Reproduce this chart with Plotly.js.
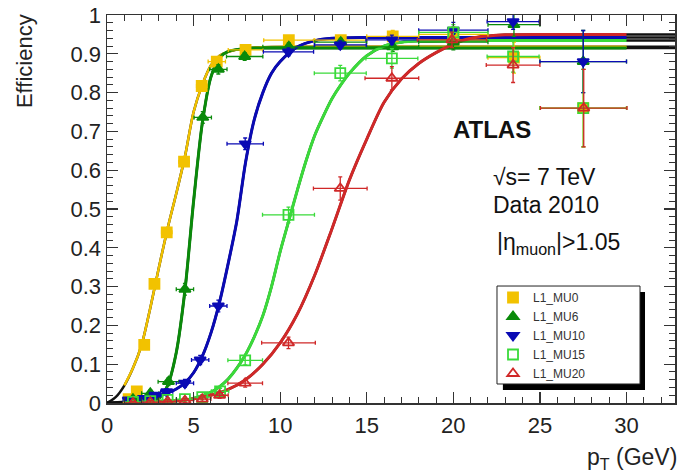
<!DOCTYPE html>
<html>
<head>
<meta charset="utf-8">
<script src="https://cdn.plot.ly/plotly-3.0.1.min.js"></script>
<style>html,body{margin:0;padding:0;background:#fff;}#chart{width:681px;height:474px;}</style>
</head>
<body>
<div id="chart"></div>
<script>
// ---- data points ----
const names = ["L1_MU0", "L1_MU6", "L1_MU10", "L1_MU15", "L1_MU20"];

const x0 = [1.25, 1.72, 2.15, 2.74, 3.45, 4.45, 5.47, 6.34, 8.0, 10.5, 13.5, 16.5, 20.0, 23.5, 27.5];
const y0 = [0.01, 0.03, 0.15, 0.307, 0.44, 0.622, 0.817, 0.88, 0.91, 0.935, 0.935, 0.945, 0.95, 0.89, 0.76];
const ex0 = [0.25, 0.25, 0.25, 0.25, 0.3, 0.3, 0.3, 0.5, 1, 1.45, 1.5, 1.5, 2, 1.5, 2.5];
const ey0 = [0.005, 0.008, 0.01, 0.01, 0.01, 0.01, 0.01, 0.01, 0.01, 0.01, 0.01, 0.015, 0.02, 0.04, 0.1];

const x6 = [1.5, 2.5, 3.55, 4.5, 5.53, 6.43, 7.95, 10.5, 13.5, 16.5, 20.0, 23.5, 27.5];
const y6 = [0.01, 0.025, 0.055, 0.293, 0.736, 0.86, 0.893, 0.918, 0.93, 0.918, 0.93, 0.975, 0.88];
const ex6 = [0.5, 0.5, 0.6, 0.5, 0.5, 0.5, 1.05, 1.5, 1.5, 1.5, 2, 1.5, 2.5];
const ey6 = [0.005, 0.008, 0.01, 0.015, 0.015, 0.012, 0.01, 0.01, 0.01, 0.012, 0.02, 0.03, 0.08];

const x10 = [1.23, 2.1, 2.77, 3.45, 4.5, 5.38, 6.43, 7.98, 10.48, 13.47, 16.45, 20.0, 23.45, 27.5];
const y10 = [0.008, 0.012, 0.02, 0.029, 0.051, 0.111, 0.25, 0.668, 0.905, 0.923, 0.936, 0.961, 0.983, 0.88];
const ex10 = [0.3, 0.3, 0.3, 0.35, 0.5, 0.5, 0.5, 1.05, 1.45, 1.5, 1.5, 2, 1.5, 2.5];
const ey10 = [0.005, 0.005, 0.006, 0.008, 0.01, 0.012, 0.015, 0.015, 0.01, 0.01, 0.012, 0.02, 0.02, 0.08];

const x15 = [1.5, 2.5, 3.5, 4.5, 5.5, 6.53, 7.98, 10.48, 13.47, 16.45, 20.0, 23.45, 27.5];
const y15 = [0.003, 0.005, 0.008, 0.01, 0.015, 0.03, 0.11, 0.485, 0.85, 0.888, 0.955, 0.893, 0.76];
const ex15 = [0.5, 0.5, 0.5, 0.5, 0.5, 0.5, 1, 1.5, 1.5, 1.5, 2, 1.5, 2.5];
const ey15 = [0.004, 0.004, 0.005, 0.005, 0.006, 0.008, 0.012, 0.02, 0.02, 0.025, 0.02, 0.04, 0.1];

const x20 = [1.5, 2.5, 3.5, 4.5, 5.5, 6.5, 7.98, 10.48, 13.47, 16.45, 19.92, 23.45, 27.53];
const y20 = [0.0, 0.002, 0.004, 0.006, 0.01, 0.02, 0.051, 0.155, 0.553, 0.837, 0.936, 0.871, 0.76];
const ex20 = [0.5, 0.5, 0.5, 0.5, 0.5, 0.5, 1, 1.55, 1.55, 1.55, 2, 1.55, 2.5];
const ey20 = [0.004, 0.004, 0.005, 0.005, 0.006, 0.008, 0.01, 0.015, 0.03, 0.03, 0.02, 0.045, 0.1];

// ---- fit curves ----
const cx0 = [0, 0.5, 1.0, 1.5, 2.0, 2.5, 3.0, 3.5, 4.0, 4.5, 5.0, 5.5, 6.0, 6.5, 7.0, 8.0, 9.0, 12, 20, 30, 33];
const cy0 = [0, 0.015, 0.045, 0.09, 0.15, 0.245, 0.35, 0.45, 0.54, 0.635, 0.75, 0.82, 0.87, 0.895, 0.905, 0.914, 0.917, 0.918, 0.918, 0.918, 0.918];

const cx6 = [0, 1, 2, 2.5, 3.0, 3.5, 4.0, 4.5, 5.0, 5.5, 6.0, 6.5, 7.0, 8.0, 10, 20, 30, 33];
const cy6 = [0, 0.0, 0.003, 0.006, 0.012, 0.045, 0.13, 0.29, 0.52, 0.72, 0.84, 0.89, 0.906, 0.914, 0.915, 0.915, 0.915, 0.915];

const cx10 = [0, 1, 2, 3, 3.5, 4, 4.5, 5, 5.5, 6, 6.5, 7, 7.5, 8, 8.5, 9, 9.5, 10, 11, 12, 13, 15, 20, 30, 33];
const cy10 = [0, 0.003, 0.008, 0.018, 0.026, 0.036, 0.052, 0.078, 0.12, 0.18, 0.26, 0.36, 0.47, 0.62, 0.73, 0.8, 0.85, 0.88, 0.918, 0.934, 0.94, 0.942, 0.942, 0.942, 0.942];

const cx15 = [0, 2, 3, 4, 5, 6, 6.5, 7, 7.5, 8, 8.5, 9, 9.5, 10, 10.5, 11, 11.5, 12, 12.5, 13, 13.5, 14, 15, 16, 17, 18, 20, 30, 33];
const cy15 = [0, 0.001, 0.002, 0.005, 0.012, 0.028, 0.042, 0.062, 0.09, 0.125, 0.17, 0.225, 0.3, 0.39, 0.47, 0.55, 0.625, 0.69, 0.74, 0.785, 0.82, 0.85, 0.895, 0.92, 0.93, 0.933, 0.934, 0.934, 0.934];

const cx20 = [0, 2, 3, 4, 5, 6, 7, 8, 9, 10, 11, 12, 13, 14, 15, 16, 17, 18, 19, 20, 21, 22, 23, 25, 30, 33];
const cy20 = [0, 0.001, 0.003, 0.006, 0.011, 0.02, 0.035, 0.06, 0.1, 0.155, 0.23, 0.33, 0.45, 0.575, 0.68, 0.775, 0.835, 0.875, 0.903, 0.925, 0.94, 0.946, 0.949, 0.95, 0.95, 0.95];

const colors = ["#f2c200", "#0a8a0a", "#0a0ab4", "#3ada3a", "#d02828"];
const symbols = ["square", "triangle-up", "triangle-down", "square-open", "triangle-up-open"];

const pts = [[x0, y0, ex0, ey0], [x6, y6, ex6, ey6], [x10, y10, ex10, ey10], [x15, y15, ex15, ey15], [x20, y20, ex20, ey20]];
const curves = [[cx0, cy0], [cx6, cy6], [cx10, cy10], [cx15, cy15], [cx20, cy20]];

const traces = [];
// black full-range fit functions underneath
curves.forEach(c => {
  traces.push({x: c[0], y: c[1], mode: "lines", line: {color: "#111", width: 2.5, shape: "spline", smoothing: 0.8},
    showlegend: false, hoverinfo: "skip"});
});
// coloured fit range
curves.forEach((c, i) => {
  const xs = [], ys = [];
  c[0].forEach((v, k) => { if (v >= 1 && v <= 30) { xs.push(v); ys.push(c[1][k]); } });
  traces.push({x: xs, y: ys, mode: "lines", line: {color: colors[i], width: i === 0 ? 2.5 : 3, shape: "spline", smoothing: 0.8},
    showlegend: false, hoverinfo: "skip"});
});
// data points
pts.forEach((p, i) => {
  traces.push({
    x: p[0], y: p[1], name: names[i], mode: "markers",
    marker: {symbol: symbols[i], size: 10, color: colors[i], line: {color: colors[i], width: 1.8}},
    error_x: {type: "data", array: p[2], color: colors[i], thickness: 1.3, width: 2},
    error_y: {type: "data", array: p[3], color: colors[i], thickness: 1.3, width: 2}
  });
});

const FF = "Liberation Sans, Arial, sans-serif";
const axisFont = {family: FF, size: 22, color: "#222"};
const layout = {
  width: 681, height: 474,
  margin: {l: 107, r: 6, t: 15, b: 71},
  paper_bgcolor: "#fff", plot_bgcolor: "#fff",
  showlegend: true,
  xaxis: {range: [0, 32.8], dtick: 5, tick0: 0, ticks: "inside", ticklen: 11, tickwidth: 1.2, tickcolor: "#333",
    minor: {dtick: 1, ticks: "inside", ticklen: 6, tickcolor: "#333", tickwidth: 1},
    showline: true, linecolor: "#333", linewidth: 1.5, mirror: "allticks", showgrid: false, zeroline: false,
    tickfont: axisFont, ticklabelstandoff: 2},
  yaxis: {range: [0, 1], dtick: 0.1, tick0: 0, ticks: "inside", ticklen: 11, tickwidth: 1.2, tickcolor: "#333",
    minor: {dtick: 0.02, ticks: "inside", ticklen: 6, tickcolor: "#333", tickwidth: 1},
    showline: true, linecolor: "#333", linewidth: 1.5, mirror: "allticks", showgrid: false, zeroline: false,
    tickfont: axisFont},
  legend: {x: 0.6796, y: 0.3093, xanchor: "left", yanchor: "top", bgcolor: "rgba(0,0,0,0)", borderwidth: 0,
    font: {family: FF, size: 12, color: "#333"}, tracegroupgap: 0},
  shapes: [
    // legend shadow
    {type: "rect", xref: "paper", yref: "paper", x0: 0.697, x1: 0.9472, y0: 0.0335, y1: 0.286,
      fillcolor: "#000", line: {width: 0}, layer: "above"},
    // legend box
    {type: "rect", xref: "paper", yref: "paper", x0: 0.6866, x1: 0.9384, y0: 0.049, y1: 0.3015,
      fillcolor: "#fff", line: {color: "#222", width: 1}, layer: "above"}
  ],
  annotations: [
    {text: "<b>ATLAS</b>", xref: "paper", yref: "paper", x: 0.678, y: 0.706, xanchor: "center", yanchor: "middle", showarrow: false,
      font: {family: FF, size: 24, color: "#111"}},
    {text: "√s= 7 TeV", xref: "paper", yref: "paper", x: 0.676, y: 0.582, xanchor: "left", yanchor: "middle", showarrow: false,
      font: {family: FF, size: 23, color: "#111"}},
    {text: "Data 2010", xref: "paper", yref: "paper", x: 0.676, y: 0.51, xanchor: "left", yanchor: "middle", showarrow: false,
      font: {family: FF, size: 23, color: "#111"}},
    {text: "|η<sub>muon</sub>|>1.05", xref: "paper", yref: "paper", x: 0.683, y: 0.41, xanchor: "left", yanchor: "middle", showarrow: false,
      font: {family: FF, size: 23, color: "#111"}},
    {text: "Efficiency", xref: "paper", yref: "paper", x: -0.146, y: 1.0, xanchor: "center", yanchor: "top", textangle: -90,
      yshift: 3, showarrow: false, font: {family: FF, size: 22, color: "#222"}},
    {text: "p<sub>T</sub> (GeV)", xref: "paper", yref: "paper", x: 1.0, y: -0.1, xanchor: "right", yanchor: "top",
      xshift: 4, showarrow: false, font: {family: FF, size: 23, color: "#222"}}
  ]
};

Plotly.newPlot("chart", traces, layout, {displayModeBar: false, staticPlot: true});
</script>
</body>
</html>
